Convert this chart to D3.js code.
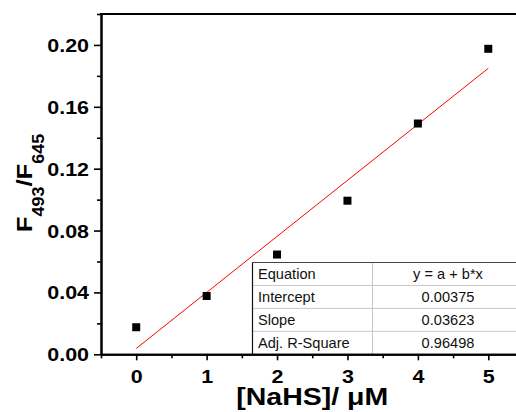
<!DOCTYPE html>
<html><head><meta charset="utf-8">
<script src="https://cdn.jsdelivr.net/npm/d3@7"></script>
<style>
html,body{margin:0;padding:0;background:#fff;}
svg{display:block;font-family:"Liberation Sans",Arial,sans-serif;}
</style></head>
<body><svg id="c" width="516" height="412"></svg>
<script>
const xValues = [0, 1, 2, 3, 4, 5];
const yValues = [0.0175, 0.0377, 0.0645, 0.0993, 0.1492, 0.1975];
const fitIntercept = 0.00375;
const fitSlope = 0.03623;
const fitRange = [0, 5];
const xTicks = [0, 1, 2, 3, 4, 5];
const xMinor = [-0.5, 0.5, 1.5, 2.5, 3.5, 4.5, 5.5];
const yTicks = [0.00, 0.04, 0.08, 0.12, 0.16, 0.20];
const yMinor = [0.02, 0.06, 0.10, 0.14, 0.18, 0.22];
const tableRows = ["Equation", "Intercept", "Slope", "Adj. R-Square"];
const tableVals = ["y = a + b*x", "0.00375", "0.03623", "0.96498"];

const svg = d3.select("#c");
const L = 101, R = 523.5, T = 14, B = 354.3;
const x = d3.scaleLinear().domain([-0.5, 5.5]).range([L, R]);
const y = d3.scaleLinear().domain([0, 0.22]).range([B, T]);

// table (inset)
const tL = 252.5, tR = R, tT = 262.5, tB = B;
const rowH = (tB - tT) / tableRows.length;
const tbl = svg.append("g");
tbl.append("rect").attr("x", tL).attr("y", tT).attr("width", tR - tL).attr("height", tB - tT).attr("fill", "#fff");
for (let i = 1; i < tableRows.length; i++) {
  tbl.append("line").attr("x1", tL).attr("x2", tR).attr("y1", tT + i * rowH).attr("y2", tT + i * rowH)
    .attr("stroke", "#c8c8c8").attr("stroke-width", 1);
}
const colX = 372.5;
tbl.append("line").attr("x1", colX).attr("x2", colX).attr("y1", tT).attr("y2", tB).attr("stroke", "#c8c8c8").attr("stroke-width", 1);
tbl.append("line").attr("x1", tL).attr("x2", tR).attr("y1", tT).attr("y2", tT).attr("stroke", "#444").attr("stroke-width", 1.2);
tbl.append("line").attr("x1", tL).attr("x2", tL).attr("y1", tT).attr("y2", tB).attr("stroke", "#111").attr("stroke-width", 1.2);
tableRows.forEach((r, i) => {
  tbl.append("text").attr("x", 258).attr("y", tT + i * rowH + 16.5).attr("font-size", 14.6).attr("fill", "#111").text(r);
  tbl.append("text").attr("x", (colX + tR) / 2).attr("y", tT + i * rowH + 16.5).attr("font-size", 14.6)
    .attr("text-anchor", "middle").attr("fill", "#111").text(tableVals[i]);
});

// fit line
svg.append("line")
  .attr("x1", x(fitRange[0])).attr("y1", y(fitIntercept + fitSlope * fitRange[0]))
  .attr("x2", x(fitRange[1])).attr("y2", y(fitIntercept + fitSlope * fitRange[1]))
  .attr("stroke", "#ff0000").attr("stroke-width", 1);

// points
const ms = 8;
svg.append("g").selectAll("rect").data(xValues.map((d, i) => [d, yValues[i]])).join("rect")
  .attr("x", d => x(d[0]) - ms / 2).attr("y", d => y(d[1]) - ms / 2)
  .attr("width", ms).attr("height", ms).attr("fill", "#000");

// axes
const sx = 1.16;
const gx = svg.append("g").attr("transform", `translate(0,${B})`)
  .call(d3.axisBottom(x).tickValues(xTicks).tickSize(6).tickSizeOuter(0).tickFormat(d3.format("d")));
const gxm = svg.append("g").attr("transform", `translate(0,${B})`)
  .call(d3.axisBottom(x).tickValues(xMinor).tickSize(4).tickSizeOuter(0).tickFormat(""));
const gy = svg.append("g").attr("transform", `translate(${L},0)`)
  .call(d3.axisLeft(y).tickValues(yTicks).tickSize(7).tickSizeOuter(0).tickFormat(d3.format(".2f")));
const gym = svg.append("g").attr("transform", `translate(${L},0)`)
  .call(d3.axisLeft(y).tickValues(yMinor).tickSize(4).tickSizeOuter(0).tickFormat(""));
[gx, gxm, gy, gym].forEach(g => {
  g.selectAll(".tick line").attr("stroke", "#000").attr("stroke-width", 1.6);
  g.select(".domain").attr("stroke", "#000").attr("stroke-width", 2);
});
gx.selectAll(".tick text").attr("y", 0).attr("dy", null)
  .attr("transform", `translate(0,29) scale(${sx},1)`)
  .attr("font-size", 18.5).attr("font-weight", "bold").attr("fill", "#000")
  .attr("font-family", "'Liberation Sans',Arial,sans-serif");
gy.selectAll(".tick text").attr("x", 0).attr("dy", null)
  .attr("transform", `translate(-12,6.5) scale(${sx},1)`)
  .attr("font-size", 18.5).attr("font-weight", "bold").attr("fill", "#000")
  .attr("font-family", "'Liberation Sans',Arial,sans-serif");

// frame top & right
svg.append("line").attr("x1", L - 1).attr("x2", R).attr("y1", T).attr("y2", T).attr("stroke", "#000").attr("stroke-width", 2);
svg.append("line").attr("x1", R).attr("x2", R).attr("y1", T).attr("y2", B).attr("stroke", "#000").attr("stroke-width", 2);

// axis titles
svg.append("text").attr("transform", `translate(${(L + R) / 2},405) scale(1.24,1)`)
  .attr("text-anchor", "middle").attr("font-size", 23).attr("font-weight", "bold").attr("fill", "#000")
  .text("[NaHS]/ μM");

const yt = svg.append("text").attr("transform", `translate(31.5,183) rotate(-90) scale(1.12,1)`)
  .attr("text-anchor", "middle").attr("font-size", 23).attr("font-weight", "bold").attr("fill", "#000");
yt.append("tspan").text("F");
yt.append("tspan").attr("font-size", 16).attr("dy", 12.5).text("493");
yt.append("tspan").attr("dy", -12.5).text("/F");
yt.append("tspan").attr("font-size", 16).attr("dy", 12.5).text("645");
</script></body></html>
